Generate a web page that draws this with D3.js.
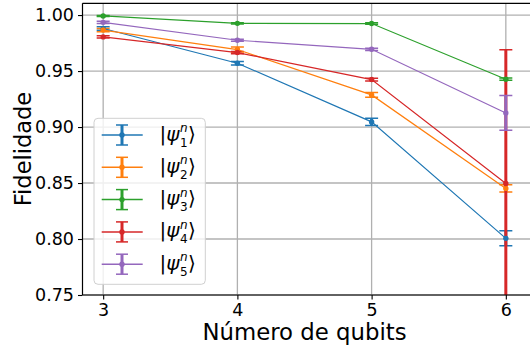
<!DOCTYPE html>
<html>
<head>
<meta charset="utf-8">
<script src="https://cdn.jsdelivr.net/npm/d3@7"></script>
<style>
  html, body { margin: 0; padding: 0; background: #fff; }
  svg { display: block; font-family: "DejaVu Sans", sans-serif; }
</style>
</head>
<body>
<svg id="chart" width="530" height="349"></svg>
<script>
// Number of qubits on the x axis
const qubits = [3, 4, 5, 6];

// Mean fidelity and its standard deviation for each state |ψ_k^n⟩
const fid1 = [0.988, 0.957, 0.9046, 0.8006];
const err1 = [0.0015, 0.0015, 0.0033, 0.0067];
const fid2 = [0.9866, 0.9692, 0.9287, 0.8452];
const err2 = [0.0015, 0.0022, 0.0022, 0.0033];
const fid3 = [0.9992, 0.9926, 0.9924, 0.9427];
const err3 = [0.0005, 0.0005, 0.0007, 0.001];
const fid4 = [0.9805, 0.9665, 0.9424, 0.8496];
const err4 = [0.001, 0.001, 0.0012, 0.1195];
const fid5 = [0.9935, 0.9775, 0.9694, 0.9126];
const err5 = [0.001, 0.001, 0.001, 0.0155];

const seriesSubs = ["1", "2", "3", "4", "5"];
const yTicks = [0.75, 0.80, 0.85, 0.90, 0.95, 1.00];
const colors = ["#1f77b4", "#ff7f0e", "#2ca02c", "#d62728", "#9467bd"];

const series = [
  { sub: seriesSubs[0], vals: fid1, errs: err1, color: colors[0] },
  { sub: seriesSubs[1], vals: fid2, errs: err2, color: colors[1] },
  { sub: seriesSubs[2], vals: fid3, errs: err3, color: colors[2] },
  { sub: seriesSubs[3], vals: fid4, errs: err4, color: colors[3] },
  { sub: seriesSubs[4], vals: fid5, errs: err5, color: colors[4] }
];

const svg = d3.select("#chart");
const padL = 82.5, padR = 526.5, padT = 3.3, padB = 295;

const x = d3.scaleLinear().domain([2.846, 6.154]).range([padL, padR]);
const y = d3.scaleLinear().domain([0.75, 1.0105]).range([padB, padT]);

svg.append("defs").append("clipPath").attr("id", "plotClip")
  .append("rect").attr("x", padL).attr("y", padT).attr("width", 530 - padL).attr("height", padB - padT);

// Grid
const grid = svg.append("g").attr("stroke", "#b0b0b0").attr("stroke-width", 1.3);
qubits.forEach(q => grid.append("line")
  .attr("x1", x(q)).attr("x2", x(q)).attr("y1", padT).attr("y2", padB));
yTicks.forEach(t => grid.append("line")
  .attr("x1", padL).attr("x2", 530).attr("y1", y(t)).attr("y2", y(t)));

const plot = svg.append("g").attr("clip-path", "url(#plotClip)");
const capHalf = 6.5;

// Error bars first, then lines and markers on top
series.forEach(s => {
  const g = plot.append("g").attr("stroke", s.color);
  qubits.forEach((q, i) => {
    const lo = s.vals[i] - s.errs[i], hi = s.vals[i] + s.errs[i];
    g.append("line").attr("x1", x(q)).attr("x2", x(q))
      .attr("y1", y(lo)).attr("y2", y(hi)).attr("stroke-width", 3);
    [lo, hi].forEach(v => g.append("line")
      .attr("x1", x(q) - capHalf).attr("x2", x(q) + capHalf)
      .attr("y1", y(v)).attr("y2", y(v)).attr("stroke-width", 1.5));
  });
});

const line = d3.line().x((d, i) => x(qubits[i])).y(d => y(d));
series.forEach(s => {
  plot.append("path").datum(s.vals).attr("d", line)
    .attr("fill", "none").attr("stroke", s.color).attr("stroke-width", 1.2);
  plot.selectAll(null).data(s.vals).enter().append("circle")
    .attr("cx", (d, i) => x(qubits[i])).attr("cy", d => y(d))
    .attr("r", 2.7).attr("fill", s.color);
});

// Axes
const xAxis = svg.append("g").attr("transform", `translate(0,${padB})`)
  .call(d3.axisBottom(x).tickValues(qubits).tickFormat(d3.format("d")).tickSize(4.5).tickPadding(4));
const yAxis = svg.append("g").attr("transform", `translate(${padL},0)`)
  .call(d3.axisLeft(y).tickValues(yTicks).tickFormat(d3.format(".2f")).tickSize(4.5).tickPadding(4));
[xAxis, yAxis].forEach(a => {
  a.select(".domain").remove();
  a.selectAll("text").attr("font-size", 17.5).attr("font-family", "DejaVu Sans").attr("fill", "#000");
  a.selectAll("line").attr("stroke", "#000").attr("stroke-width", 1.1);
});

// Spines: left, bottom and top
const spines = svg.append("g").attr("stroke", "#000").attr("stroke-width", 1.2);
spines.append("line").attr("x1", padL).attr("x2", padL).attr("y1", padT).attr("y2", padB);
spines.append("line").attr("x1", padL).attr("x2", 530).attr("y1", padB).attr("y2", padB);
spines.append("line").attr("x1", padL).attr("x2", 530).attr("y1", padT).attr("y2", padT);

// Axis titles
svg.append("text").attr("x", (padL + padR) / 2).attr("y", 340)
  .attr("text-anchor", "middle").attr("font-size", 22.8).text("Número de qubits");
svg.append("text").attr("transform", "translate(31,149) rotate(-90)")
  .attr("text-anchor", "middle").attr("font-size", 22.5).text("Fidelidade");

// Legend
const lg = svg.append("g");
lg.append("rect").attr("x", 94).attr("y", 118.3).attr("width", 111.3).attr("height", 166)
  .attr("rx", 4).attr("fill", "#fff").attr("fill-opacity", 0.8)
  .attr("stroke", "#d0d0d0").attr("stroke-width", 1);
const rowY = i => 135 + i * 32.3;
series.forEach((s, i) => {
  const cy = rowY(i);
  const g = lg.append("g").attr("stroke", s.color);
  g.append("line").attr("x1", 101.7).attr("x2", 142.7).attr("y1", cy).attr("y2", cy).attr("stroke-width", 1.5);
  g.append("line").attr("x1", 122).attr("x2", 122).attr("y1", cy - 10).attr("y2", cy + 10).attr("stroke-width", 3);
  [cy - 10, cy + 10].forEach(v => g.append("line")
    .attr("x1", 122 - 6).attr("x2", 122 + 6).attr("y1", v).attr("y2", v).attr("stroke-width", 1.5));
  lg.append("circle").attr("cx", 122).attr("cy", cy).attr("r", 2.7).attr("fill", s.color);

  // Label |ψ_k^n⟩ as one text element with stacked super/subscript
  const base = cy + 5.5;
  const x0 = 159.5;
  const t = lg.append("text").attr("x", x0).attr("y", base).attr("font-size", 20);
  t.append("tspan").text("|");
  t.append("tspan").attr("font-style", "italic").text("ψ");
  const sx = x0 + t.node().getComputedTextLength() + 0.5;
  t.append("tspan").attr("x", sx).attr("y", base - 8.5).attr("font-size", 12)
    .attr("font-style", "italic").text("n");
  t.append("tspan").attr("x", sx).attr("y", base + 6).attr("font-size", 12).text(s.sub);
  t.append("tspan").attr("x", sx + 8).attr("y", base).text("⟩");
});
</script>
</body>
</html>
